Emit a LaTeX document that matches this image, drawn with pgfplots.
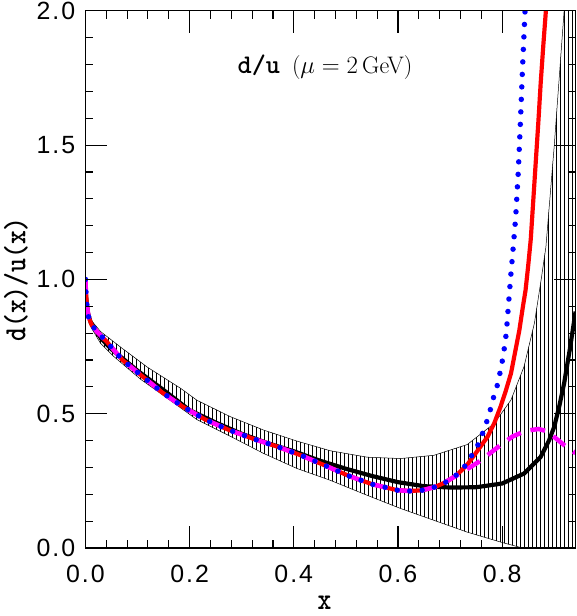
\documentclass[border=0pt]{standalone}
\usepackage{fontspec}
\newfontfamily\tickfont{Liberation Sans}[LetterSpace=8]
\usepackage{graphicx}
\usepackage{pgfplots}
\pgfplotsset{compat=1.18}
\usepgfplotslibrary{fillbetween}
\usetikzlibrary{patterns.meta}
\definecolor{mag}{RGB}{255,0,255}
\definecolor{dblue}{RGB}{0,0,255}
\definecolor{dred}{RGB}{255,0,0}

\pgfplotstableread{
x y
0.0    1.000
0.001  0.950
0.003  0.900
0.006  0.860
0.012  0.830
0.022  0.806
0.041  0.768
0.071  0.700
0.110  0.638
0.148  0.578
0.187  0.526
0.230  0.478
0.276  0.439
0.323  0.406
0.369  0.377
0.415  0.344
0.460  0.307
0.506  0.268
0.551  0.237
0.599  0.215
0.623  0.212
0.647  0.215
0.671  0.227
0.693  0.246
0.713  0.273
0.730  0.308
0.743  0.349
0.756  0.392
0.764  0.435
0.772  0.479
0.779  0.526
0.785  0.572
0.793  0.619
0.797  0.665
0.802  0.712
0.805  0.756
0.808  0.800
0.812  0.900
0.816  1.000
0.820  1.090
0.826  1.230
0.831  1.400
0.835  1.580
0.839  1.780
0.844  2.000
}\bluedata

\pgfplotstableread{
x y
0.0    1.000
0.001  0.950
0.003  0.900
0.006  0.860
0.012  0.830
0.022  0.806
0.041  0.768
0.071  0.700
0.110  0.638
0.148  0.578
0.187  0.526
0.230  0.478
0.276  0.439
0.323  0.406
0.369  0.377
0.415  0.344
0.460  0.307
0.506  0.268
0.551  0.237
0.599  0.215
0.623  0.212
0.647  0.215
0.671  0.227
0.693  0.246
0.713  0.272
0.733  0.310
0.752  0.360
0.772  0.414
0.785  0.465
0.797  0.526
0.807  0.585
0.817  0.650
0.825  0.730
0.833  0.810
0.840  0.900
0.845  0.960
0.850  1.050
0.855  1.150
0.860  1.300
0.865  1.450
0.870  1.600
0.874  1.730
0.879  1.870
0.884  2.000
}\reddata

\pgfplotstableread{
x y
0.0    1.000
0.001  0.950
0.003  0.900
0.006  0.860
0.012  0.830
0.022  0.806
0.041  0.768
0.071  0.700
0.110  0.638
0.148  0.578
0.187  0.526
0.230  0.478
0.276  0.439
0.323  0.406
0.369  0.377
0.415  0.344
0.460  0.307
0.506  0.268
0.551  0.237
0.599  0.215
0.623  0.212
0.647  0.215
0.671  0.227
0.693  0.248
0.713  0.270
0.730  0.290
0.753  0.318
0.775  0.350
0.797  0.383
0.820  0.415
0.845  0.436
0.870  0.443
0.885  0.435
0.897  0.418
0.919  0.383
0.941  0.353
}\magdata

\pgfplotstableread{
x y
0.0    0.990
0.001  0.940
0.004  0.880
0.010  0.840
0.030  0.780
0.050  0.740
0.100  0.660
0.150  0.588
0.200  0.513
0.250  0.467
0.300  0.425
0.350  0.390
0.400  0.360
0.450  0.325
0.500  0.295
0.550  0.268
0.600  0.245
0.650  0.230
0.700  0.225
0.750  0.226
0.800  0.240
0.842  0.277
0.874  0.339
0.890  0.400
0.900  0.451
0.910  0.530
0.919  0.613
0.930  0.740
0.941  0.880
}\blackdata

\pgfplotstableread{
x y
0.0    1.000
0.003  0.930
0.010  0.850
0.029  0.806
0.068  0.747
0.119  0.673
0.183  0.594
0.214  0.550
0.278  0.489
0.342  0.439
0.406  0.398
0.470  0.362
0.541  0.338
0.605  0.333
0.669  0.345
0.733  0.385
0.785  0.464
0.817  0.551
0.842  0.675
0.862  0.837
0.875  1.000
0.884  1.120
0.900  1.496
0.919  2.000
0.945  2.600
}\upperdata

\pgfplotstableread{
x y
0.0    0.980
0.003  0.880
0.010  0.824
0.029  0.762
0.055  0.712
0.106  0.628
0.158  0.556
0.214  0.478
0.278  0.416
0.342  0.352
0.406  0.296
0.470  0.252
0.541  0.196
0.605  0.147
0.669  0.103
0.733  0.059
0.797  0.022
0.839  0.000
0.945  -0.100
}\lowerdata

\begin{document}
\begin{tikzpicture}
\begin{axis}[
  scale only axis,
  width=490bp, height=537bp,
  xmin=0, xmax=0.941, ymin=0, ymax=2,
  xtick={0,0.2,0.4,0.6,0.8},
  ytick={0,0.5,1,1.5,2},
  minor x tick num=4,
  minor y tick num=4,
  xtick pos=both, ytick pos=both,
  tick align=inside,
  major tick length=22bp,
  minor tick length=8bp,
  every tick/.style={black, line width=1.1pt},
  axis line style={line width=1.3pt},
  axis on top,
  /pgf/number format/fixed,
  /pgf/number format/fixed zerofill,
  /pgf/number format/precision=1,
  /pgf/number format/assume math mode=true,
  tick label style={font=\tickfont\fontsize{25}{25}\selectfont, inner sep=2bp},
  xticklabel style={yshift=-15bp},
  yticklabel style={xshift=-8bp},
  xlabel={\ttfamily\bfseries\fontsize{31}{31}\selectfont\scalebox{0.85}[1]{x}},
  ylabel={\ttfamily\bfseries\fontsize{31}{31}\selectfont\scalebox{0.85}[1]{d(x)/u(x)}},
  xlabel style={at={(axis description cs:0.488,-0.1155)}, anchor=base, inner sep=6bp},
  ylabel style={at={(axis description cs:-0.1418,0.5)}, anchor=center, inner sep=4bp},
  clip=true,
]
\addplot[draw=black, line width=0.5pt, name path=up] table {\upperdata};
\addplot[draw=black, line width=0.5pt, name path=lo] table {\lowerdata};
\addplot[draw=none, pattern={Lines[angle=90, distance=4bp, line width=0.75pt]}, pattern color=black]
  fill between[of=up and lo];
\addplot[black, line width=4.2pt] table {\blackdata};
\addplot[dred, line width=4.2pt] table {\reddata};
\addplot[mag, line width=4.5pt, dash pattern=on 15bp off 10bp] table {\magdata};
\addplot[dblue, line width=5.5pt, line cap=round, dash pattern=on 0pt off 12.5bp] table {\bluedata};
\node[anchor=center] at (axis cs:0.46,1.79)
  {\ttfamily\bfseries\fontsize{27}{27}\selectfont d/u\hspace{12bp}\mdseries\fontsize{24}{24}\rmfamily($\mu = 2\,$GeV)};
\end{axis}
\end{tikzpicture}
\end{document}
